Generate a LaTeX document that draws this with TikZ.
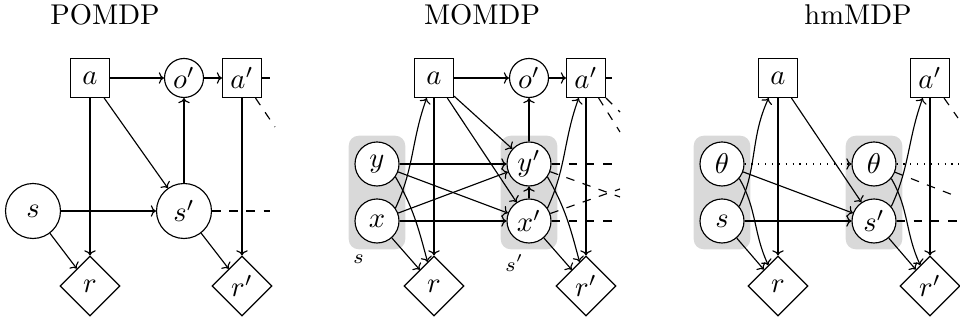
\documentclass[tikz,border=0pt]{standalone}
\usepackage{amsmath}
\usepackage{amssymb}
\usepackage{tikz}
\usetikzlibrary{arrows.meta}
\usetikzlibrary{positioning}
\usetikzlibrary{shapes.geometric}
\usetikzlibrary{fit}
\usetikzlibrary{backgrounds}

\begin{document}
\begin{tikzpicture}[>={To[width=4pt, length=1.8pt]}, x=0.35pt, y=-0.35pt,
    act/.style={draw, rectangle, minimum size=13.65pt, inner sep=0pt},
    obs/.style={draw, circle, minimum size=13.65pt, inner sep=0pt},
    bigst/.style={draw, circle, minimum size=19.25pt, inner sep=0pt},
    st/.style={draw, circle, fill=white, minimum size=15.4pt, inner sep=0pt},
    rew/.style={draw, diamond, minimum width=21pt, minimum height=21pt, inner sep=0pt},
    grp/.style={fill=gray!30, rounded corners=3.5pt, inner sep=2pt},
    lbl/.style={font=\scriptsize, inner sep=1.5pt}]
    \useasboundingbox (0,0) rectangle (960,321);

    \node (tp) at (105,15) {POMDP};
    \node (tm) at (482,15) {MOMDP};
    \node (th) at (858,15) {hmMDP};

    \node[act] (pa) at (90,78) {$a$};
    \node[obs] (pon) at (184,78) {$o'$};
    \node[act] (pan) at (242,78) {$a'$};
    \node[bigst] (ps) at (33,211) {$s$};
    \node[bigst] (psn) at (184,211) {$s'$};
    \node[rew] (pr) at (90,286) {$r$};
    \node[rew] (prn) at (242,286) {$r'$};
    \coordinate (pe1) at (270,78);
    \coordinate (pe2) at (270,211);
    \coordinate (pe3) at (275,127);

    \draw[->] (pa) -- (pon);
    \draw[->] (pon) -- (pan);
    \draw (pan) -- (pe1);
    \draw[->] (pa) -- (pr);
    \draw[->] (pa) -- (psn);
    \draw[->] (ps) -- (psn);
    \draw[->] (ps) -- (pr);
    \draw[->] (psn) -- (pon);
    \draw[->] (psn) -- (prn);
    \draw[->] (pan) -- (prn);
    \draw[dashed] (psn) -- (pe2);
    \draw[dashed] (pan) -- (pe3);

    \node[act] (ma) at (434,78) {$a$};
    \node[obs] (mon) at (529,78) {$o'$};
    \node[act] (man) at (586,78) {$a'$};
    \node[st] (my) at (377,164) {$y$};
    \node[st] (mx) at (377,221) {$x$};
    \node[st] (myn) at (529,164) {$y'$};
    \node[st] (mxn) at (529,221) {$x'$};
    \node[rew] (mr) at (434,286) {$r$};
    \node[rew] (mrn) at (586,286) {$r'$};
    \begin{scope}[on background layer]
        \node[grp, fit=(my)(mx)] (mg) {};
        \node[grp, fit=(myn)(mxn)] (mgn) {};
    \end{scope}
    \node[lbl, below right=0pt of mg.south west] (ms) {$s$};
    \node[lbl, below right=0pt of mgn.south west] (msn) {$s'$};
    \coordinate (me1) at (612,78);
    \coordinate (me2) at (620,164);
    \coordinate (me3) at (620,221);
    \coordinate (me4) at (620,197);
    \coordinate (me5) at (620,189);
    \coordinate (me6) at (620,112);
    \coordinate (me7) at (620,132);

    \draw[->] (ma) -- (mon);
    \draw[->] (mon) -- (man);
    \draw (man) -- (me1);
    \draw[->] (ma) -- (mr);
    \draw[->] (ma) -- (myn);
    \draw[->] (ma) -- (mxn);
    \draw[->] (my) -- (myn);
    \draw[->] (my) -- (mxn);
    \draw[->] (mx) -- (myn);
    \draw[->] (mx) -- (mxn);
    \draw[->] (mx.35) to[out=65, in=-110] (ma);
    \draw[->] (my.-35) to[out=-60, in=105] (mr);
    \draw[->] (mx) -- (mr);
    \draw[->] (myn) -- (mon);
    \draw[->] (mxn) -- (myn);
    \draw[->] (mxn.35) to[out=65, in=-110] (man);
    \draw[->] (myn.-35) to[out=-60, in=105] (mrn);
    \draw[->] (mxn) -- (mrn);
    \draw[->] (man) -- (mrn);
    \draw[dashed] (myn) -- (me2);
    \draw[dashed] (mxn) -- (me3);
    \draw[dashed] (myn) -- (me4);
    \draw[dashed] (mxn) -- (me5);
    \draw[dashed] (man) -- (me6);
    \draw[dashed] (man) -- (me7);

    \node[act] (ha) at (778,78) {$a$};
    \node[act] (han) at (930,78) {$a'$};
    \node[st] (ht) at (722,164) {$\theta$};
    \node[st] (hs) at (722,221) {$s$};
    \node[st] (htn) at (874,164) {$\theta$};
    \node[st] (hsn) at (874,221) {$s'$};
    \node[rew] (hr) at (778,286) {$r$};
    \node[rew] (hrn) at (930,286) {$r'$};
    \begin{scope}[on background layer]
        \node[grp, fit=(ht)(hs)] (hg) {};
        \node[grp, fit=(htn)(hsn)] (hgn) {};
    \end{scope}
    \coordinate (he1) at (960,164);
    \coordinate (he2) at (958,197);
    \coordinate (he3) at (958,221);
    \coordinate (he4) at (958,118);

    \draw[->] (ha) -- (hr);
    \draw[->] (ha) -- (hsn);
    \draw[->] (ht) -- (hsn);
    \draw[->] (hs) -- (hsn);
    \draw[->, dotted] (ht) -- (htn);
    \draw[->] (hs.40) to[out=65, in=-115] (ha);
    \draw[->] (ht.-40) to[out=-60, in=115] (hr);
    \draw[->] (hs) -- (hr);
    \draw[->] (hsn.40) to[out=65, in=-110] (han);
    \draw[->] (htn.-40) to[out=-60, in=115] (hrn);
    \draw[->] (hsn) -- (hrn);
    \draw[->] (han) -- (hrn);
    \draw[dotted] (htn) -- (he1);
    \draw[dashed] (htn) -- (he2);
    \draw[dashed] (hsn) -- (he3);
    \draw[dashed] (han) -- (he4);
\end{tikzpicture}
\end{document}
